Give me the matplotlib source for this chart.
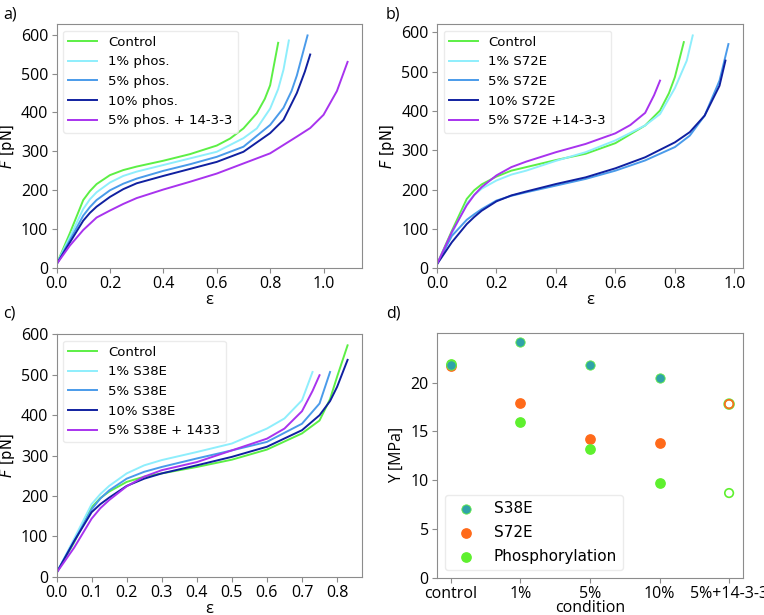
import matplotlib
matplotlib.use("Agg")
import matplotlib.pyplot as plt

plt.rcParams['font.family'] = ['Open Sans', 'DejaVu Sans']

# colours of the five conditions
col_ctrl = '#5cef45'
col_1 = '#8eeefc'
col_5 = '#4a9bea'
col_10 = '#1020a0'
col_1433 = '#a833ee'

# ---- panel a: phosphorylation
a_labels = ['Control', '1% phos.', '5% phos.', '10% phos.', '5% phos. + 14-3-3']
a_eps_ctrl = [0, 0.05, 0.1, 0.125, 0.15, 0.2, 0.25, 0.3, 0.4, 0.5, 0.6, 0.65, 0.7, 0.75, 0.78, 0.8, 0.83]
a_f_ctrl = [10, 90, 175, 198, 216, 239, 252, 261, 276, 293, 315, 333, 359, 398, 435, 470, 579]
a_eps_1 = [0, 0.05, 0.1, 0.125, 0.15, 0.2, 0.25, 0.3, 0.4, 0.5, 0.6, 0.7, 0.75, 0.8, 0.83, 0.85, 0.87]
a_f_1 = [10, 80, 152, 177, 195, 220, 237, 248, 265, 282, 299, 334, 359, 410, 460, 510, 585]
a_eps_5 = [0, 0.05, 0.1, 0.125, 0.15, 0.2, 0.25, 0.3, 0.4, 0.5, 0.6, 0.7, 0.8, 0.85, 0.88, 0.9, 0.94]
a_f_5 = [10, 72, 135, 157, 175, 200, 217, 230, 250, 267, 286, 312, 368, 412, 455, 495, 598]
a_eps_10 = [0, 0.05, 0.1, 0.125, 0.15, 0.2, 0.25, 0.3, 0.4, 0.5, 0.6, 0.7, 0.8, 0.85, 0.9, 0.93, 0.95]
a_f_10 = [10, 66, 122, 142, 158, 183, 203, 218, 237, 255, 273, 299, 347, 381, 450, 505, 549]
a_eps_1433 = [0, 0.05, 0.1, 0.15, 0.2, 0.25, 0.3, 0.4, 0.5, 0.6, 0.7, 0.8, 0.9, 0.95, 1.0, 1.05, 1.09]
a_f_1433 = [10, 58, 98, 130, 148, 165, 180, 202, 222, 243, 269, 295, 338, 360, 394, 455, 530]

# ---- panel b: S72E
b_labels = ['Control', '1% S72E', '5% S72E', '10% S72E', '5% S72E +14-3-3']
b_eps_ctrl = [0, 0.05, 0.1, 0.125, 0.15, 0.2, 0.25, 0.3, 0.4, 0.5, 0.6, 0.7, 0.75, 0.78, 0.8, 0.83]
b_f_ctrl = [10, 95, 176, 198, 213, 233, 248, 257, 275, 291, 318, 363, 401, 445, 486, 575]
b_eps_1 = [0, 0.05, 0.1, 0.125, 0.15, 0.2, 0.25, 0.3, 0.4, 0.5, 0.6, 0.7, 0.75, 0.8, 0.84, 0.86]
b_f_1 = [10, 88, 164, 186, 202, 223, 238, 248, 273, 295, 325, 363, 392, 458, 528, 592]
b_eps_5 = [0, 0.05, 0.1, 0.125, 0.15, 0.2, 0.25, 0.3, 0.4, 0.5, 0.6, 0.7, 0.8, 0.85, 0.9, 0.95, 0.98]
b_f_5 = [10, 82, 123, 137, 150, 172, 184, 193, 210, 227, 248, 274, 308, 337, 388, 477, 570]
b_eps_10 = [0, 0.05, 0.1, 0.125, 0.15, 0.2, 0.25, 0.3, 0.4, 0.5, 0.6, 0.7, 0.8, 0.85, 0.9, 0.95, 0.97]
b_f_10 = [10, 66, 112, 130, 146, 170, 185, 195, 214, 231, 254, 282, 320, 346, 388, 464, 528]
b_eps_1433 = [0, 0.05, 0.1, 0.125, 0.15, 0.2, 0.25, 0.3, 0.4, 0.5, 0.6, 0.65, 0.7, 0.73, 0.75]
b_f_1433 = [10, 92, 160, 186, 206, 236, 257, 271, 295, 316, 343, 364, 395, 440, 477]

# ---- panel c: S38E
c_labels = ['Control', '1% S38E', '5% S38E', '10% S38E', '5% S38E + 1433']
c_eps_ctrl = [0, 0.05, 0.1, 0.125, 0.15, 0.2, 0.25, 0.3, 0.4, 0.5, 0.6, 0.7, 0.75, 0.78, 0.8, 0.83]
c_f_ctrl = [10, 85, 172, 195, 211, 235, 248, 256, 272, 290, 315, 355, 387, 440, 495, 573]
c_eps_1 = [0, 0.05, 0.1, 0.125, 0.15, 0.2, 0.25, 0.3, 0.4, 0.5, 0.6, 0.65, 0.7, 0.73]
c_f_1 = [10, 94, 180, 205, 225, 256, 276, 289, 309, 330, 367, 392, 437, 507]
c_eps_5 = [0, 0.05, 0.1, 0.125, 0.15, 0.2, 0.25, 0.3, 0.4, 0.5, 0.6, 0.7, 0.75, 0.78]
c_f_5 = [10, 88, 167, 194, 214, 243, 260, 272, 293, 313, 334, 379, 429, 507]
c_eps_10 = [0, 0.05, 0.1, 0.125, 0.15, 0.2, 0.25, 0.3, 0.4, 0.5, 0.6, 0.7, 0.75, 0.78, 0.8, 0.83]
c_f_10 = [10, 88, 160, 180, 196, 225, 243, 256, 276, 297, 322, 363, 400, 435, 470, 537]
c_eps_1433 = [0, 0.05, 0.1, 0.125, 0.15, 0.2, 0.25, 0.3, 0.4, 0.5, 0.6, 0.65, 0.7, 0.73, 0.75]
c_f_1433 = [10, 72, 144, 170, 190, 224, 248, 264, 284, 313, 342, 367, 410, 460, 499]

# ---- panel d: Young's modulus
conditions = ['control', '1%', '5%', '10%', '5%+14-3-3']
y_s38e = [21.8, 24.2, 21.8, 20.5]
y_s72e = [21.7, 17.9, 14.2, 13.8]
y_phos = [21.95, 16.0, 13.2, 9.7]
y_s38e_1433 = 17.8
y_s72e_1433 = 17.8
y_phos_1433 = 8.7

colors = [col_ctrl, col_1, col_5, col_10, col_1433]

fig = plt.figure(figsize=(7.64, 6.15), dpi=100)

def style(ax):
    for s in ax.spines.values():
        s.set_color('#8c8c8c')
    ax.tick_params(colors='#8c8c8c', labelcolor='black', labelsize=11.5, pad=2.5)

def curves(ax, data, labels):
    for (e, f), c, l in zip(data, colors, labels):
        ax.plot(e, f, color=c, lw=1.4, label=l)
    ax.set_xlim(left=0)
    ax.set_ylim(bottom=0)
    ax.set_yticks([0, 100, 200, 300, 400, 500, 600])
    ax.set_xlabel('ε', fontsize=12, labelpad=0)
    ax.set_ylabel('$F$ [pN]', fontfamily='DejaVu Sans', fontsize=10.5, labelpad=3)
    leg = ax.legend(loc='upper left', prop={'family': 'DejaVu Sans', 'size': 9.5},
                    handlelength=2.2, borderaxespad=0.5, framealpha=0.8)
    leg.get_frame().set_edgecolor('#e6e6e6')
    style(ax)

ax_a = fig.add_axes([0.074, 0.564, 0.400, 0.397])
curves(ax_a, [(a_eps_ctrl, a_f_ctrl), (a_eps_1, a_f_1), (a_eps_5, a_f_5),
              (a_eps_10, a_f_10), (a_eps_1433, a_f_1433)], a_labels)
ax_a.set_xticks([0, 0.2, 0.4, 0.6, 0.8, 1.0])

ax_b = fig.add_axes([0.572, 0.564, 0.4005, 0.397])
curves(ax_b, [(b_eps_ctrl, b_f_ctrl), (b_eps_1, b_f_1), (b_eps_5, b_f_5),
              (b_eps_10, b_f_10), (b_eps_1433, b_f_1433)], b_labels)
ax_b.set_xticks([0, 0.2, 0.4, 0.6, 0.8, 1.0])

ax_c = fig.add_axes([0.074, 0.062, 0.400, 0.395])
curves(ax_c, [(c_eps_ctrl, c_f_ctrl), (c_eps_1, c_f_1), (c_eps_5, c_f_5),
              (c_eps_10, c_f_10), (c_eps_1433, c_f_1433)], c_labels)
ax_c.set_xticks([0, 0.1, 0.2, 0.3, 0.4, 0.5, 0.6, 0.7, 0.8])

ax_d = fig.add_axes([0.572, 0.06, 0.4005, 0.399])
xs = list(range(len(conditions)))
ax_d.scatter(xs[:4], y_s38e, s=45, color='#2fa3a8', edgecolor='#66ee44', linewidth=0.6, label='S38E', zorder=3)
ax_d.scatter(xs[:4], y_s72e, s=45, color='#ff6a1a', label='S72E', zorder=2)
ax_d.scatter(xs[:4], y_phos, s=45, color='#5ef02e', label='Phosphorylation', zorder=2)
ax_d.scatter([xs[4]], [y_s38e_1433], s=45, facecolor='none', edgecolor='#66ee44', linewidth=1.6, zorder=2)
ax_d.scatter([xs[4]], [y_s72e_1433], s=38, facecolor='none', edgecolor='#ff6a1a', linewidth=1.2, zorder=3)
ax_d.scatter([xs[4]], [y_phos_1433], s=38, facecolor='none', edgecolor='#5ef02e', linewidth=1.2, zorder=3)
ax_d.set_xticks(xs)
ax_d.set_xticklabels(conditions)
ax_d.set_yticks([0, 5, 10, 15, 20])
ax_d.set_ylim(0, 25.1)
ax_d.set_xlabel('condition', fontsize=11.5, labelpad=-1)
ax_d.set_ylabel('Y [MPa]', fontsize=11.5, labelpad=4)
leg = ax_d.legend(loc='lower left', prop={'family': 'DejaVu Sans', 'size': 11},
                  labelspacing=0.6, borderaxespad=0.5)
leg.get_frame().set_edgecolor('#e6e6e6')
style(ax_d)
ax_d.tick_params(axis='x', labelsize=11.5, pad=2)

for lab, x, y in [('a)', 0.004, 0.99), ('b)', 0.505, 0.99), ('c)', 0.004, 0.503), ('d)', 0.505, 0.503)]:
    fig.text(x, y, lab, fontsize=11.5, va='top')

fig.savefig('out.png', dpi=100)
